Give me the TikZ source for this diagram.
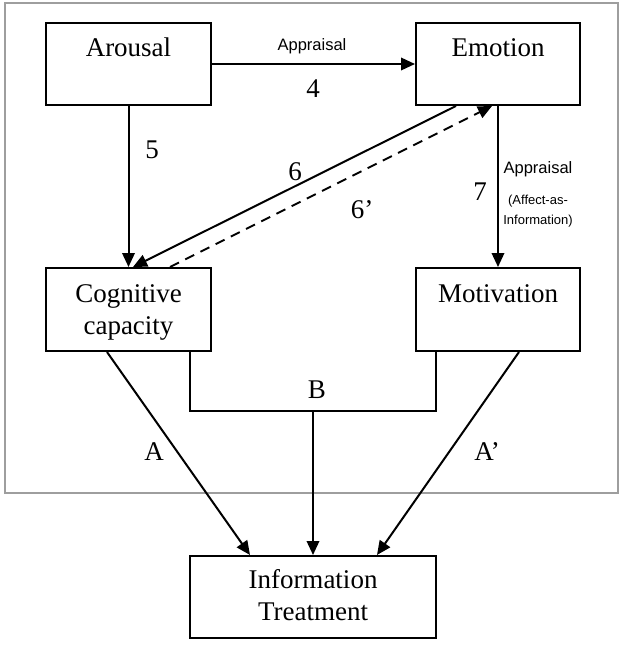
\documentclass[tikz,border=0pt]{standalone}
\usepackage{fontspec}
\setmainfont{Liberation Serif}
\newfontfamily\labelsans{Liberation Sans}
\usetikzlibrary{arrows.meta,calc}

\tikzset{
  box/.style={draw, line width=2pt, inner sep=0pt, minimum height=82pt},
  boxtext/.style={anchor=base, inner sep=0pt, font=\fontsize{27}{32}\selectfont},
  num/.style={anchor=base, inner sep=0pt, font=\fontsize{27}{32}\selectfont},
  tag/.style={anchor=base, inner sep=0pt, font=\labelsans\fontsize{16.5}{19}\selectfont},
  smalltag/.style={anchor=base, inner sep=0pt, font=\labelsans\fontsize{13}{15}\selectfont},
  link/.style={line width=2pt},
  arrow/.style={link, -{Triangle[length=14pt,width=12.5pt]}},
}

\begin{document}
\begin{tikzpicture}[x=1pt,y=-1pt]
  \useasboundingbox (0,0) rectangle (621,645);

  % outer frame
  \draw[line width=1.5pt, color=black!38] (5,3) rectangle (618,493);

  % boxes
  \node[box, minimum width=165pt] (arousal) at (128.5,64) {};
  \node[box, minimum width=164pt] (emotion) at (498,64) {};
  \node[box, minimum width=165pt, minimum height=83pt] (cog) at (128.5,309.5) {};
  \node[box, minimum width=164pt, minimum height=83pt] (motiv) at (498,309.5) {};
  \node[box, minimum width=246pt] (info) at (313,597) {};

  % box texts
  \node[boxtext] (tArousal) at ($(arousal.north)+(0,34)$) {Arousal};
  \node[boxtext] (tEmotion) at ($(emotion.north)+(0,34)$) {Emotion};
  \node[boxtext] (tCog1) at ($(cog.north)+(0,35)$) {Cognitive};
  \node[boxtext] (tCog2) at ($(cog.north)+(0,67)$) {capacity};
  \node[boxtext] (tMotiv) at ($(motiv.north)+(0,35)$) {Motivation};
  \node[boxtext] (tInfo1) at ($(info.north)+(0,33)$) {Information};
  \node[boxtext] (tInfo2) at ($(info.north)+(0,65)$) {Treatment};

  % arousal -> emotion (4)
  \draw[arrow] (arousal.east) -- (emotion.west);
  % arousal -> cognitive capacity (5)
  \draw[arrow] (arousal.south) -- (cog.north);
  % emotion -> cognitive capacity (6)
  \draw[arrow] ($(emotion.south west)+(41,0)$) -- ($(cog.north)+(4.5,0)$);
  % cognitive capacity -> emotion (6')
  \draw[arrow, dashed, dash pattern=on 10pt off 7pt]
    ($(cog.north)+(41.5,0)$) -- ($(emotion.south)+(-6,0)$);
  % emotion -> motivation (7)
  \draw[arrow] (emotion.south) -- (motiv.north);

  % path A
  \draw[arrow] ($(cog.south)+(-21.5,0)$) -- ($(info.north)+(-63,0)$);
  % path A'
  \draw[arrow] ($(motiv.south)+(21,0)$) -- ($(info.north)+(64,0)$);
  % path B: joint bracket then down to information treatment
  \coordinate (bl) at ($(cog.south)+(61.5,0)$);
  \coordinate (br) at ($(motiv.south)+(-62,0)$);
  \coordinate (bmid) at ($(info.north)+(0,-144)$);
  \draw[link, line width=1.6pt] (bl) -- (bl |- bmid) -- (br |- bmid) -- (br);
  \draw[arrow] (bmid) -- (info.north);

  % labels
  \node[tag] (lApp1) at (312,50) {Appraisal};
  \node[num] (l4) at (313,97) {4};
  \node[num] (l5) at (152,158) {5};
  \node[num] (l6) at (295,180) {6};
  \node[num] (l6p) at (362,218) {6’};
  \node[num] (l7) at (480,200) {7};
  \node[tag] (lApp2) at (538,173) {Appraisal};
  \node[smalltag] (lAff1) at (538,204) {(Affect-as-};
  \node[smalltag] (lAff2) at (538,224) {Information)};
  \node[num] (lB) at (317,398) {B};
  \node[num] (lA) at (154,460) {A};
  \node[num] (lAp) at (487,460) {A’};
\end{tikzpicture}
\end{document}
